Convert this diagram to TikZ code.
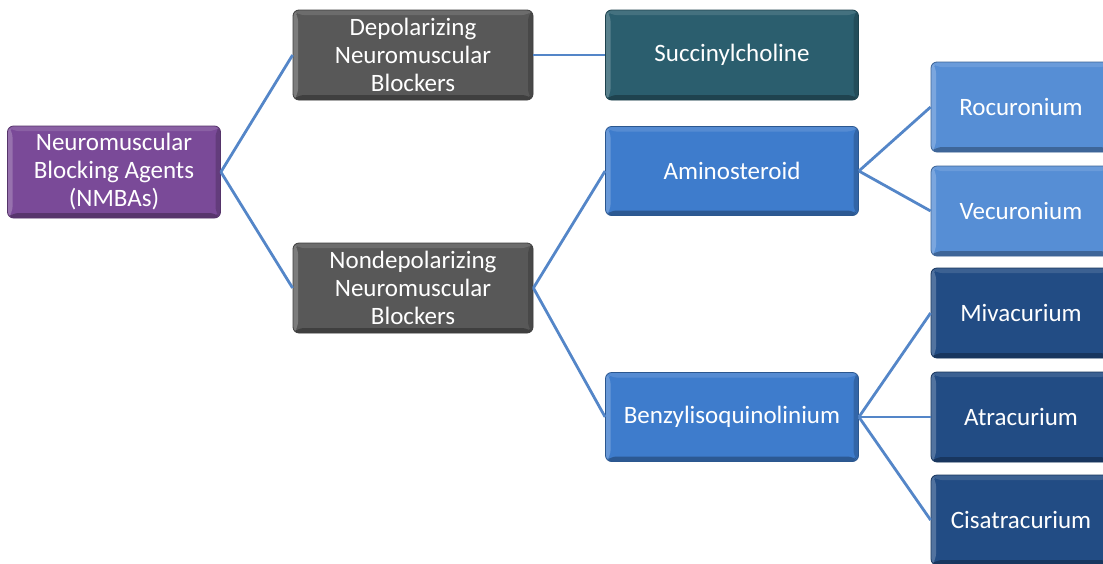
\documentclass[tikz,border=0pt]{standalone}
\usepackage{fontspec}
\setmainfont{Carlito}
\definecolor{cpurple}{RGB}{122,74,152}
\definecolor{cgrey}{RGB}{88,88,88}
\definecolor{cteal}{RGB}{43,94,110}
\definecolor{cblue}{RGB}{62,124,204}
\definecolor{clight}{RGB}{86,142,213}
\definecolor{cdark}{RGB}{34,76,132}
\definecolor{cline}{RGB}{84,134,200}
\tikzset{
  box/.style={rectangle, rounded corners=6pt, draw=#1!70!black, line width=0.8pt,
    fill=#1, text=white, align=center, inner sep=0pt,
    font=\fontsize{25}{28}\selectfont,
    path picture={
      \coordinate (nw) at (path picture bounding box.north west);
      \coordinate (ne) at (path picture bounding box.north east);
      \coordinate (sw) at (path picture bounding box.south west);
      \coordinate (se) at (path picture bounding box.south east);
      \fill[white,opacity=.22] (nw) -- (sw) -- ([shift={(5,-5)}]sw) -- ([shift={(5,5)}]nw) -- cycle;
      \fill[white,opacity=.12] (nw) -- (ne) -- ([shift={(-5,5)}]ne) -- ([shift={(5,5)}]nw) -- cycle;
      \fill[black,opacity=.18] (ne) -- (se) -- ([shift={(-5,-5)}]se) -- ([shift={(-5,5)}]ne) -- cycle;
      \fill[black,opacity=.28] (sw) -- (se) -- ([shift={(-5,-5)}]se) -- ([shift={(5,-5)}]sw) -- cycle;
    }},
  conn/.style={draw=cline, line width=2.8pt}
}
\begin{document}
\begin{tikzpicture}[x=1pt,y=-1pt]
\clip (0,0) rectangle (1103,563);
\node[box=cpurple, minimum width=213pt, minimum height=92pt] (root) at (114,172) {Neuromuscular\\Blocking Agents\\(NMBAs)};
\node[box=cgrey, minimum width=240pt, minimum height=90pt] (dep) at (413,55) {Depolarizing\\Neuromuscular\\Blockers};
\node[box=cgrey, minimum width=240pt, minimum height=90pt] (non) at (413,288) {Nondepolarizing\\Neuromuscular\\Blockers};
\node[box=cteal, minimum width=253pt, minimum height=90pt] (suc) at (732,55) {Succinylcholine};
\node[box=cblue, minimum width=253pt, minimum height=89pt] (ami) at (732,171) {Aminosteroid};
\node[box=cblue, minimum width=253pt, minimum height=89pt] (ben) at (732,417) {Benzylisoquinolinium};
\node[box=clight, minimum width=180pt, minimum height=90pt] (roc) at (1021,107) {Rocuronium};
\node[box=clight, minimum width=180pt, minimum height=90pt] (vec) at (1021,211) {Vecuronium};
\node[box=cdark, minimum width=180pt, minimum height=90pt] (miv) at (1021,313) {Mivacurium};
\node[box=cdark, minimum width=180pt, minimum height=90pt] (atr) at (1021,417) {Atracurium};
\node[box=cdark, minimum width=180pt, minimum height=90pt] (cis) at (1021,520) {Cisatracurium};
\draw[conn] (root.east) -- (dep.west);
\draw[conn] (root.east) -- (non.west);
\draw[conn] (dep.east) -- (suc.west);
\draw[conn] (non.east) -- (ami.west);
\draw[conn] (non.east) -- (ben.west);
\draw[conn] (ami.east) -- (roc.west);
\draw[conn] (ami.east) -- (vec.west);
\draw[conn] (ben.east) -- (miv.west);
\draw[conn] (ben.east) -- (atr.west);
\draw[conn] (ben.east) -- (cis.west);
\end{tikzpicture}
\end{document}
